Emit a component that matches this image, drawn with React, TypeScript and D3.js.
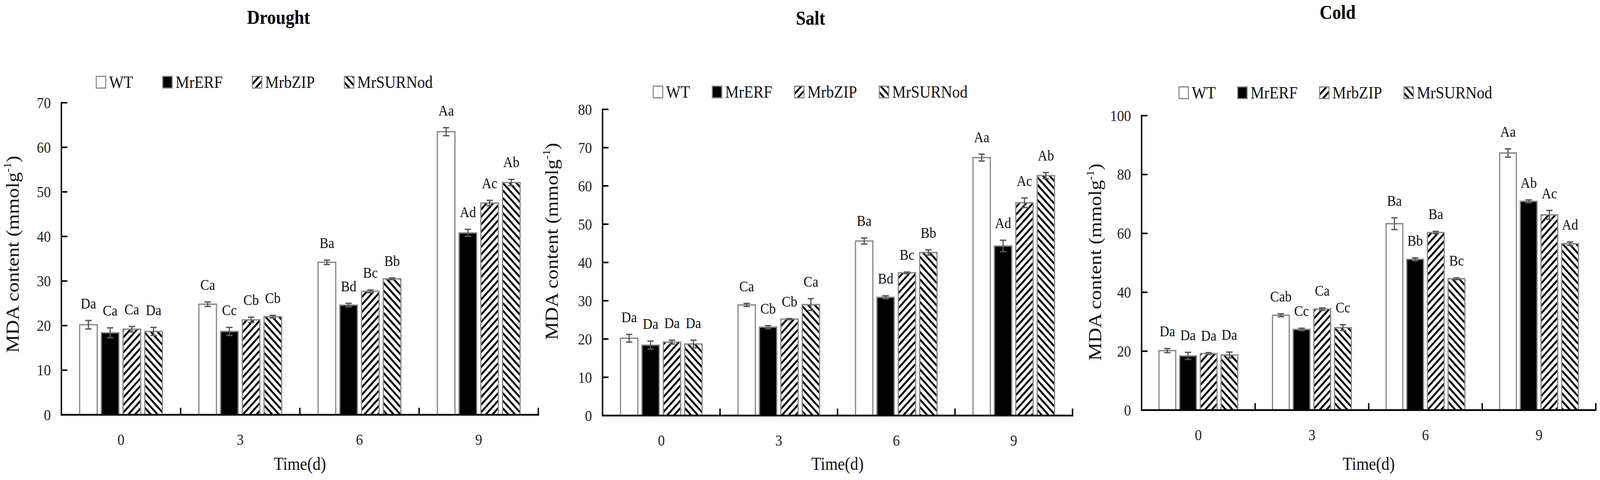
import React from 'react';
import * as d3 from 'd3';

// days of stress treatment (x categories) and the four lines (series)
const days = ['0', '3', '6', '9'];
const lines = ['WT', 'MrERF', 'MrbZIP', 'MrSURNod'];

// MDA content, one row per line (WT, MrERF, MrbZIP, MrSURNod), one column per day
const droughtMeans = [
  [20.2, 24.8, 34.2, 63.5],
  [18.4, 18.7, 24.6, 40.8],
  [19.2, 21.3, 27.7, 47.5],
  [18.7, 22.0, 30.5, 52.1],
];
const droughtErrors = [
  [0.95, 0.5, 0.5, 0.9],
  [1.1, 0.9, 0.4, 0.8],
  [0.6, 0.6, 0.3, 0.6],
  [0.9, 0.3, 0.2, 0.7],
];
const droughtLetters = [
  ['Da', 'Ca', 'Ba', 'Aa'],
  ['Ca', 'Cc', 'Bd', 'Ad'],
  ['Ca', 'Cb', 'Bc', 'Ac'],
  ['Da', 'Cb', 'Bb', 'Ab'],
];

const saltMeans = [
  [20.2, 28.9, 45.6, 67.4],
  [18.4, 23.1, 30.9, 44.3],
  [19.2, 25.2, 37.3, 55.6],
  [18.7, 29.0, 42.6, 62.7],
];
const saltErrors = [
  [1.0, 0.4, 0.8, 0.9],
  [1.05, 0.4, 0.4, 1.5],
  [0.5, 0.15, 0.2, 1.25],
  [1.0, 1.55, 0.7, 0.8],
];
const saltLetters = [
  ['Da', 'Ca', 'Ba', 'Aa'],
  ['Da', 'Cb', 'Bd', 'Ad'],
  ['Da', 'Cb', 'Bc', 'Ac'],
  ['Da', 'Ca', 'Bb', 'Ab'],
];

const coldMeans = [
  [20.2, 32.2, 63.3, 87.3],
  [18.4, 27.4, 51.2, 70.9],
  [19.2, 34.3, 60.3, 66.3],
  [18.7, 28.0, 44.6, 56.5],
];
const coldErrors = [
  [0.7, 0.5, 2.0, 1.4],
  [1.2, 0.4, 0.5, 0.5],
  [0.3, 0.4, 0.4, 1.5],
  [1.0, 1.0, 0.3, 0.6],
];
const coldLetters = [
  ['Da', 'Cab', 'Ba', 'Aa'],
  ['Da', 'Cc', 'Bb', 'Ab'],
  ['Da', 'Ca', 'Ba', 'Ac'],
  ['Da', 'Cc', 'Bc', 'Ad'],
];

const droughtTicks = [0, 10, 20, 30, 40, 50, 60, 70];
const saltTicks = [0, 10, 20, 30, 40, 50, 60, 70, 80];
const coldTicks = [0, 20, 40, 60, 80, 100];

const W = 4562;
const H = 1229;
const FONT = "'Times New Roman', 'Liberation Serif', serif";
const BAR_STROKE = '#8a8a8a';
const ERR_STROKE = '#5a5a5a';
const fills = ['#ffffff', '#000000', 'url(#hatchFwd)', 'url(#hatchBack)'];

interface Layout {
  x0: number; x1: number; y0: number; yTop: number;
  titleX: number; titleY: number;
  legendX: number; legendY: number; legendGap: number;
  yLabelX: number; yLabelY: number;
}

interface PanelProps {
  title: string;
  means: number[][];
  errors: number[][];
  letters: string[][];
  ticks: number[];
  layout: Layout;
}

function Panel({ title, means, errors, letters, ticks, layout }: PanelProps) {
  const { x0, x1, y0, yTop } = layout;
  const yMax = ticks[ticks.length - 1];
  const x = d3.scaleBand<string>().domain(days).range([x0, x1]).padding(0);
  const xInner = d3.scaleBand<string>()
    .domain(lines)
    .range([0, x.bandwidth()])
    .paddingInner(0.19)
    .paddingOuter(0.84);
  const y = d3.scaleLinear().domain([0, yMax]).range([y0, yTop]);
  const bw = xInner.bandwidth();

  // legend text widths (Times, 44px)
  const legendFont = 44;
  const legendBox = { w: 30, h: 33 };
  const textGap = 8;
  const charW: Record<string, number> = {
    W: 0.944, T: 0.611, M: 0.889, r: 0.333, E: 0.611, R: 0.667, F: 0.556,
    b: 0.5, Z: 0.611, I: 0.333, P: 0.556, S: 0.556, U: 0.722, N: 0.722, o: 0.5, d: 0.5,
  };
  const textW = (s: string) => s.split('').reduce((a, c) => a + (charW[c] ?? 0.5), 0) * legendFont;
  const legendXs: number[] = [];
  lines.reduce((acc, name) => {
    legendXs.push(acc);
    return acc + legendBox.w + textGap + textW(name) + layout.legendGap;
  }, layout.legendX);

  return (
    <g>
      <text x={layout.titleX} y={layout.titleY} textAnchor="middle" fontFamily={FONT}
        fontWeight="bold" fontSize={50} fill="#000">{title}</text>

      {/* legend */}
      {lines.map((name, i) => (
        <g key={name} transform={`translate(${legendXs[i]},${layout.legendY})`}>
          <rect x={1.5} y={1.5} width={legendBox.w - 3} height={legendBox.h - 3}
            fill={fills[i]} stroke={BAR_STROKE} strokeWidth={3} />
          <text x={legendBox.w + textGap} y={legendBox.h - 2} fontFamily={FONT}
            fontSize={legendFont} fill="#111">{name}</text>
        </g>
      ))}

      {/* bars */}
      {lines.map((name, si) => (
        <g key={name}>
          {days.map((d, di) => {
            const bx = (x(d) ?? 0) + (xInner(name) ?? 0);
            const v = means[si][di];
            return (
              <rect key={d} x={bx} y={y(v)} width={bw} height={y0 - y(v)}
                fill={fills[si]} stroke={BAR_STROKE} strokeWidth={3.5} />
            );
          })}
        </g>
      ))}

      {/* error bars and letters */}
      {lines.map((name, si) => (
        <g key={name}>
          {days.map((d, di) => {
            const cx = (x(d) ?? 0) + (xInner(name) ?? 0) + bw / 2;
            const v = means[si][di];
            const e = errors[si][di];
            const top = y(v + e);
            const bot = y(v - e);
            return (
              <g key={d}>
                <line x1={cx} x2={cx} y1={top} y2={bot} stroke={ERR_STROKE} strokeWidth={3.5} />
                <line x1={cx - 9} x2={cx + 9} y1={top} y2={top} stroke={ERR_STROKE} strokeWidth={3.5} />
                <line x1={cx - 9} x2={cx + 9} y1={bot} y2={bot} stroke={ERR_STROKE} strokeWidth={3.5} />
                <text x={cx} y={top - 31} textAnchor="middle" fontFamily={FONT}
                  fontSize={38} fill="#111">{letters[si][di]}</text>
              </g>
            );
          })}
        </g>
      ))}

      {/* y axis */}
      <line x1={x0} x2={x0} y1={y0} y2={y(yMax) - 2} stroke="#000" strokeWidth={4} />
      {ticks.map((t) => (
        <g key={t}>
          {t > 0 && <line x1={x0} x2={x0 + 17} y1={y(t)} y2={y(t)} stroke="#000" strokeWidth={4} />}
          <text x={x0 - 30} y={y(t)} dy="0.34em" textAnchor="end" fontFamily={FONT}
            fontSize={40} fill="#222">{t}</text>
        </g>
      ))}

      {/* x axis */}
      <line x1={x0 - 2} x2={x1 + 2} y1={y0} y2={y0} stroke="#000" strokeWidth={4.5} />
      {days.map((d) => (
        <g key={d}>
          <line x1={(x(d) ?? 0) + x.bandwidth()} x2={(x(d) ?? 0) + x.bandwidth()}
            y1={y0} y2={y0 - 18} stroke="#000" strokeWidth={4} />
          <text x={(x(d) ?? 0) + x.bandwidth() / 2} y={y0 + 77} textAnchor="middle"
            fontFamily={FONT} fontSize={40} fill="#222">{d}</text>
        </g>
      ))}
      <text x={(x0 + x1) / 2} y={1203} textAnchor="middle" fontFamily={FONT}
        fontSize={46} fill="#111">Time(d)</text>

      {/* y axis title */}
      <text transform={`translate(${layout.yLabelX},${layout.yLabelY}) rotate(-90)`}
        textAnchor="middle" fontFamily={FONT} fontSize={52} fill="#111">
        MDA content (mmolg
        <tspan fontSize={30} dy={-22}>-1</tspan>
        <tspan dy={22}>)</tspan>
      </text>
    </g>
  );
}

const droughtLayout: Layout = {
  x0: 175, x1: 1535, y0: 1062, yTop: 263,
  titleX: 794, titleY: 61,
  legendX: 273, legendY: 194, legendGap: 83,
  yLabelX: 53, yLabelY: 651,
};
const saltLayout: Layout = {
  x0: 1718, x1: 3058, y0: 1064, yTop: 280,
  titleX: 2311, titleY: 63,
  legendX: 1861, legendY: 219, legendGap: 62,
  yLabelX: 1590, yLabelY: 618,
};
const coldLayout: Layout = {
  x0: 3255, x1: 4550, y0: 1050, yTop: 296,
  titleX: 3814, titleY: 48,
  legendX: 3360, legendY: 221, legendGap: 61,
  yLabelX: 3140, yLabelY: 671,
};

export default function App() {
  // the svg is stretched over the whole viewport so the full figure is always in frame
  return (
    <div style={{ position: 'fixed', left: 0, top: 0, width: '100vw', height: '100vh', background: '#fff', overflow: 'hidden' }}>
      <svg viewBox={`0 0 ${W} ${H}`} preserveAspectRatio="none"
        style={{ display: 'block', width: '100vw', height: '100vh' }}>
        <defs>
          <pattern id="hatchFwd" patternUnits="userSpaceOnUse" width={13.6} height={13.6}
            patternTransform="rotate(45)">
            <rect width={13.6} height={13.6} fill="#fff" />
            <rect width={5.2} height={13.6} fill="#000" />
          </pattern>
          <pattern id="hatchBack" patternUnits="userSpaceOnUse" width={13.6} height={13.6}
            patternTransform="rotate(-45)">
            <rect width={13.6} height={13.6} fill="#fff" />
            <rect width={5.2} height={13.6} fill="#000" />
          </pattern>
        </defs>
        <rect width={W} height={H} fill="#fff" />
        <Panel title="Drought" means={droughtMeans} errors={droughtErrors} letters={droughtLetters}
          ticks={droughtTicks} layout={droughtLayout} />
        <Panel title="Salt" means={saltMeans} errors={saltErrors} letters={saltLetters}
          ticks={saltTicks} layout={saltLayout} />
        <Panel title="Cold" means={coldMeans} errors={coldErrors} letters={coldLetters}
          ticks={coldTicks} layout={coldLayout} />
      </svg>
    </div>
  );
}
